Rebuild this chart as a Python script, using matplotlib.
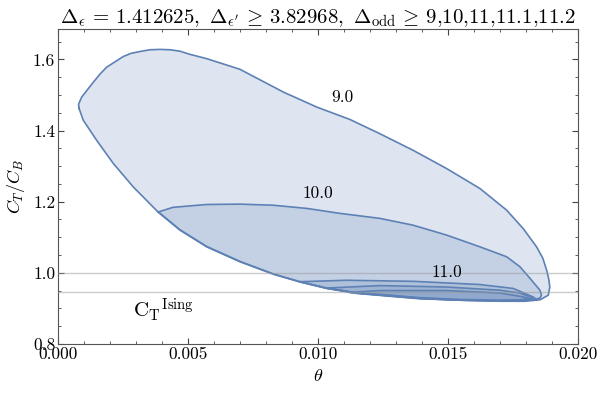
import matplotlib
matplotlib.use("Agg")
import matplotlib.pyplot as plt
from matplotlib.ticker import MultipleLocator, FormatStrFormatter

plt.rcParams['font.family'] = 'serif'
plt.rcParams['font.serif'] = ['cmr10', 'DejaVu Serif']
plt.rcParams['mathtext.fontset'] = 'cm'
plt.rcParams['axes.formatter.use_mathtext'] = True

# allowed regions for Delta_odd >= 9, 10, 11, 11.1, 11.2
# each region: upper edge (left tip -> right tip) then lower edge (left -> right)
th9_up = [0.00081, 0.00079, 0.00091, 0.00136, 0.00162, 0.00187, 0.00251, 0.00281, 0.00315, 0.00354,
          0.00392, 0.00431, 0.00469, 0.00508, 0.00572, 0.00700, 0.00867, 0.00995, 0.01123, 0.01238,
          0.01367, 0.01495, 0.01623, 0.01726, 0.01790, 0.01841, 0.01865, 0.01880, 0.01888, 0.01892,
          0.01886]
ct9_up = [1.462, 1.474, 1.494, 1.536, 1.559, 1.578, 1.608, 1.617, 1.622, 1.627,
          1.628, 1.627, 1.623, 1.614, 1.602, 1.572, 1.508, 1.466, 1.431, 1.391,
          1.344, 1.293, 1.237, 1.176, 1.124, 1.073, 1.041, 1.007, 0.982, 0.960,
          0.937]
th9_lo = [0.00081, 0.00097, 0.00149, 0.00213, 0.00290, 0.00386, 0.00469, 0.00572, 0.00700, 0.00828,
          0.00931, 0.01033, 0.01149, 0.01277, 0.01392, 0.01546, 0.01700, 0.01796, 0.01854, 0.01886]
ct9_lo = [1.462, 1.429, 1.372, 1.307, 1.241, 1.170, 1.120, 1.073, 1.031, 0.996,
          0.974, 0.956, 0.942, 0.934, 0.927, 0.923, 0.920, 0.920, 0.924, 0.937]

th10_up = [0.00386, 0.00442, 0.00572, 0.00700, 0.00827, 0.00957, 0.01085, 0.01238, 0.01365, 0.01495,
           0.01623, 0.01726, 0.01777, 0.01815, 0.01854, 0.01860, 0.01854]
ct10_up = [1.171, 1.184, 1.192, 1.193, 1.190, 1.181, 1.167, 1.153, 1.134, 1.106,
           1.073, 1.045, 1.017, 0.985, 0.951, 0.937, 0.929]
th10_lo = [0.00386, 0.00469, 0.00572, 0.00700, 0.00828, 0.00931, 0.01033, 0.01149, 0.01277, 0.01392,
           0.01546, 0.01700, 0.01796, 0.01835, 0.01854]
ct10_lo = [1.171, 1.121, 1.074, 1.032, 0.997, 0.975, 0.957, 0.943, 0.935, 0.928,
           0.923, 0.921, 0.922, 0.925, 0.929]

th11_up = [0.00931, 0.01110, 0.01367, 0.01623, 0.01751, 0.01828, 0.01841]
ct11_up = [0.975, 0.979, 0.976, 0.967, 0.956, 0.932, 0.925]
th11_lo = [0.00931, 0.01033, 0.01149, 0.01277, 0.01392, 0.01546, 0.01700, 0.01796, 0.01841]
ct11_lo = [0.975, 0.957, 0.943, 0.935, 0.928, 0.923, 0.921, 0.922, 0.925]

th111_up = [0.01031, 0.01238, 0.01495, 0.01700, 0.01777, 0.01827]
ct111_up = [0.957, 0.964, 0.960, 0.951, 0.943, 0.929]
th111_lo = [0.01031, 0.01149, 0.01277, 0.01392, 0.01546, 0.01700, 0.01796, 0.01827]
ct111_lo = [0.957, 0.944, 0.936, 0.929, 0.924, 0.922, 0.923, 0.929]

th112_up = [0.01123, 0.01238, 0.01496, 0.01700, 0.01785, 0.01815]
ct112_up = [0.945, 0.950, 0.950, 0.943, 0.933, 0.927]
th112_lo = [0.01123, 0.01277, 0.01392, 0.01546, 0.01700, 0.01777, 0.01815]
ct112_lo = [0.945, 0.937, 0.930, 0.925, 0.923, 0.924, 0.927]

regions = [(th9_up, ct9_up, th9_lo, ct9_lo),
           (th10_up, ct10_up, th10_lo, ct10_lo),
           (th11_up, ct11_up, th11_lo, ct11_lo),
           (th111_up, ct111_up, th111_lo, ct111_lo),
           (th112_up, ct112_up, th112_lo, ct112_lo)]

ct_ising = 0.946534
labels = ['9.0', '10.0', '11.0']
label_pos = [(0.01092, 1.493), (0.0100, 1.224), (0.01496, 1.002)]

col = '#5E81B5'

fig = plt.figure(figsize=(5.97, 3.99), dpi=100)
ax = fig.add_axes([0.0972, 0.138, 0.8708, 0.789])

for tu, cu, tl, cl in regions:
    xs = list(tu) + list(tl[::-1])
    ys = list(cu) + list(cl[::-1])
    ax.fill(xs, ys, facecolor=col, alpha=0.2, edgecolor='none', zorder=2)
    ax.plot(xs + [xs[0]], ys + [ys[0]], color=col, lw=1.2, zorder=3,
            solid_joinstyle='round')

ax.axhline(1.0, color='#999999', lw=1.0, alpha=0.5, zorder=4)
ax.axhline(ct_ising, color='#999999', lw=1.0, alpha=0.5, zorder=4)

for lab, (x, y) in zip(labels, label_pos):
    ax.text(x, y, lab, fontsize=12.5, ha='center', va='center', zorder=5)
ax.text(0.00404, 0.895, r'$\mathrm{C_T}^{\mathrm{Ising}}$', fontsize=15, ha='center', va='center')

ax.set_xlim(0, 0.02)
ax.set_ylim(0.8, 1.685)
ax.xaxis.set_major_locator(MultipleLocator(0.005))
ax.xaxis.set_minor_locator(MultipleLocator(0.001))
ax.yaxis.set_major_locator(MultipleLocator(0.2))
ax.yaxis.set_minor_locator(MultipleLocator(0.05))
ax.xaxis.set_major_formatter(FormatStrFormatter('%.3f'))
ax.yaxis.set_major_formatter(FormatStrFormatter('%.1f'))
ax.tick_params(which='both', direction='in', top=True, right=True, labelsize=12.5, color='#444444')
ax.tick_params(which='major', length=4, pad=2)
ax.tick_params(which='minor', length=2)
for s in ax.spines.values():
    s.set_color('#555555')

ax.set_xlabel(r'$\theta$', fontsize=13)
ax.set_ylabel(r'$C_T/C_B$', fontsize=13)
ax.set_title(r'$\Delta_\epsilon\,=\,1.412625,\ \Delta_{\epsilon^\prime}\,\geq\,3.82968,\ \Delta_{\mathrm{odd}}\,\geq\,9{,}10{,}11{,}11.1{,}11.2$',
             fontsize=15, pad=4)

fig.savefig('out.png', dpi=100)
